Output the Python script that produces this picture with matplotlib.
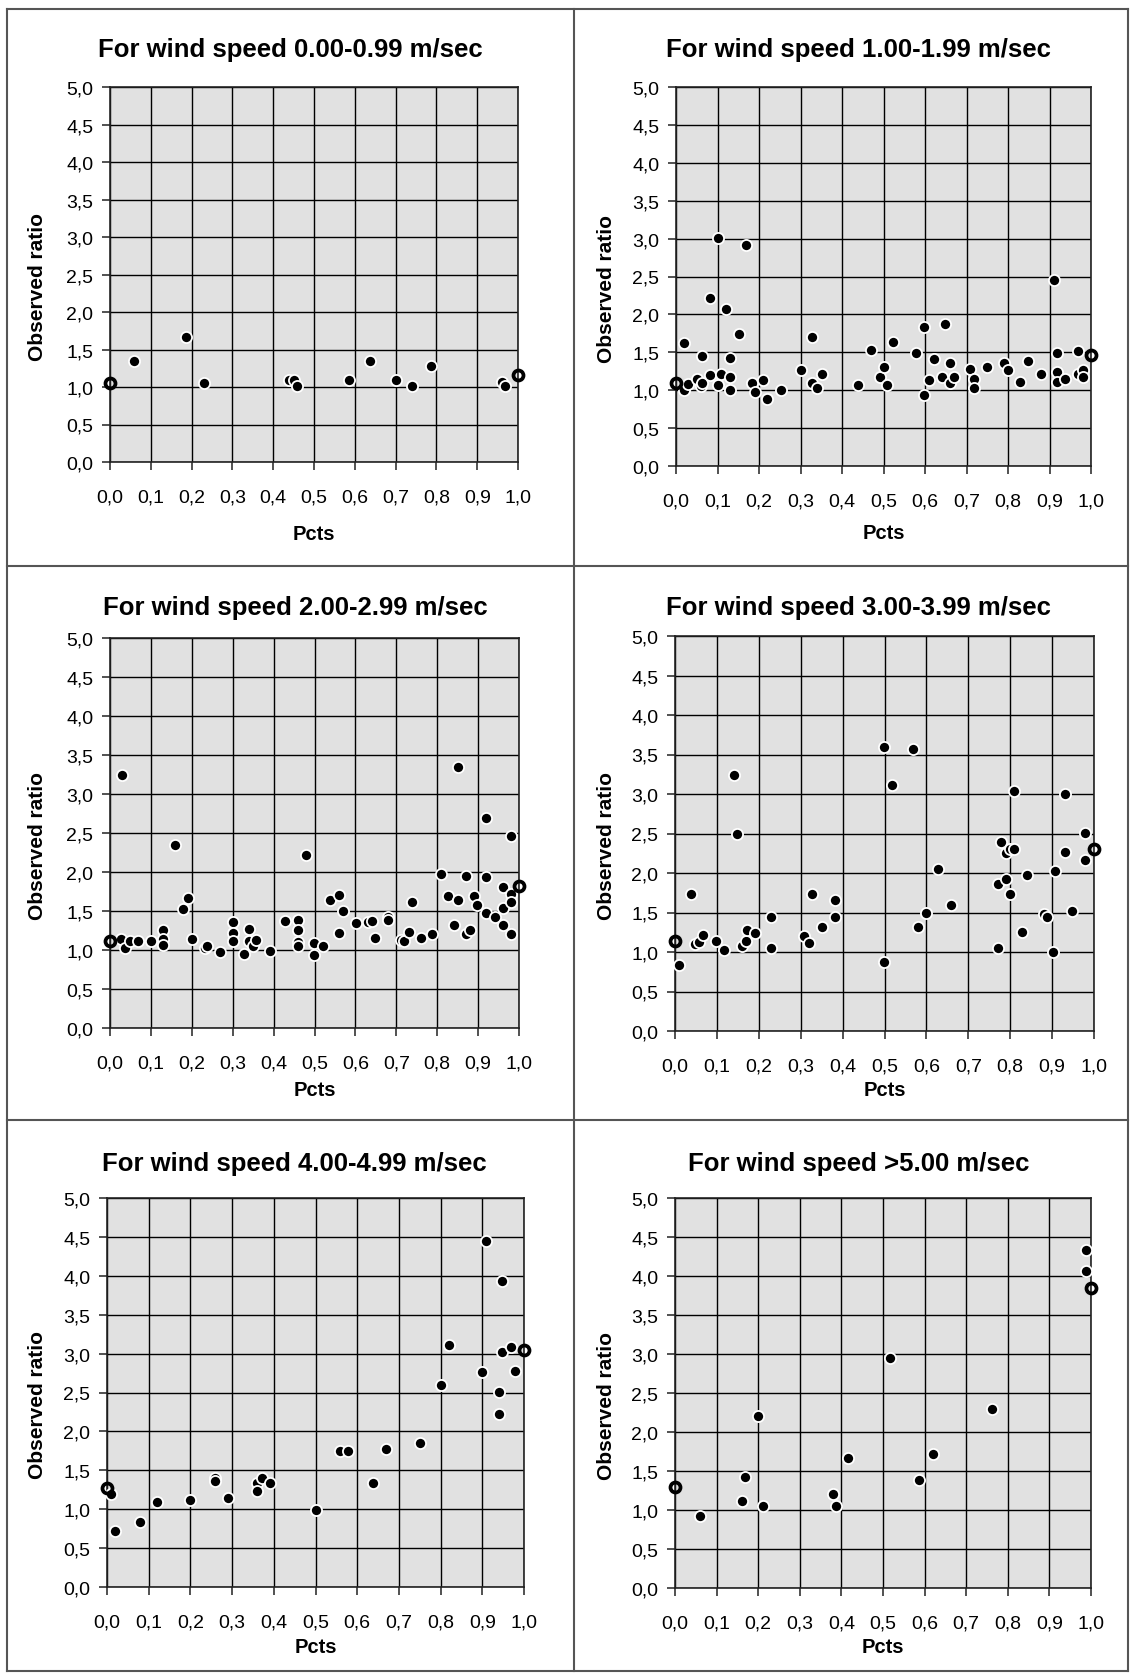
import matplotlib
matplotlib.use('Agg')
import matplotlib.pyplot as plt
from matplotlib.lines import Line2D

plt.rcParams['font.family'] = ['Liberation Sans', 'DejaVu Sans']

W, H = 1130, 1674

titles = ['For wind speed 0.00-0.99 m/sec', 'For wind speed 1.00-1.99 m/sec',
          'For wind speed 2.00-2.99 m/sec', 'For wind speed 3.00-3.99 m/sec',
          'For wind speed 4.00-4.99 m/sec', 'For wind speed >5.00 m/sec']

x_ws0 = [0.059, 0.187, 0.231, 0.438, 0.451, 0.459, 0.587, 0.638, 0.700, 0.740,
         0.786, 0.961, 0.967]
y_ws0 = [1.35, 1.67, 1.05, 1.09, 1.10, 1.02, 1.09, 1.35, 1.09, 1.02,
         1.28, 1.07, 1.015]

x_ws1 = [0.019, 0.020, 0.030, 0.050, 0.060, 0.062, 0.062, 0.082, 0.082, 0.100,
         0.100, 0.108, 0.120, 0.131, 0.131, 0.131, 0.152, 0.169, 0.182, 0.190,
         0.209, 0.220, 0.252, 0.301, 0.328, 0.328, 0.339, 0.352, 0.439, 0.470,
         0.491, 0.502, 0.509, 0.522, 0.578, 0.598, 0.598, 0.609, 0.622, 0.641,
         0.648, 0.660, 0.660, 0.671, 0.709, 0.717, 0.717, 0.749, 0.791, 0.799,
         0.830, 0.849, 0.880, 0.910, 0.917, 0.917, 0.917, 0.938, 0.969, 0.969,
         0.980, 0.980]
y_ws1 = [1.62, 1.00, 1.08, 1.15, 1.05, 1.09, 1.45, 1.20, 2.21, 3.01,
         1.07, 1.22, 2.07, 1.43, 1.18, 1.00, 1.74, 2.91, 1.09, 0.98,
         1.14, 0.89, 1.00, 1.26, 1.70, 1.10, 1.03, 1.22, 1.07, 1.53,
         1.18, 1.31, 1.07, 1.64, 1.49, 1.83, 0.94, 1.14, 1.41, 1.18,
         1.87, 1.36, 1.09, 1.18, 1.28, 1.15, 1.03, 1.31, 1.36, 1.26,
         1.11, 1.39, 1.22, 2.46, 1.49, 1.24, 1.11, 1.15, 1.52, 1.22,
         1.26, 1.18]

x_ws2 = [0.028, 0.030, 0.037, 0.050, 0.069, 0.100, 0.129, 0.129, 0.129, 0.160,
         0.179, 0.191, 0.200, 0.232, 0.238, 0.270, 0.300, 0.300, 0.300, 0.327,
         0.340, 0.340, 0.350, 0.358, 0.390, 0.429, 0.460, 0.460, 0.460, 0.460,
         0.480, 0.499, 0.499, 0.520, 0.537, 0.559, 0.559, 0.570, 0.601, 0.631,
         0.640, 0.647, 0.680, 0.680, 0.711, 0.718, 0.731, 0.739, 0.761, 0.788,
         0.809, 0.827, 0.840, 0.851, 0.851, 0.871, 0.871, 0.879, 0.890, 0.898,
         0.920, 0.920, 0.920, 0.941, 0.960, 0.960, 0.960, 0.981, 0.981, 0.981,
         0.981]
y_ws2 = [1.14, 3.24, 1.02, 1.11, 1.11, 1.11, 1.26, 1.14, 1.07, 2.34,
         1.52, 1.67, 1.14, 1.03, 1.05, 0.97, 1.36, 1.22, 1.11, 0.95,
         1.27, 1.11, 1.05, 1.13, 0.99, 1.37, 1.39, 1.26, 1.10, 1.05,
         2.22, 1.09, 0.93, 1.05, 1.64, 1.71, 1.22, 1.50, 1.34, 1.36,
         1.37, 1.15, 1.42, 1.39, 1.13, 1.11, 1.23, 1.61, 1.15, 1.20,
         1.97, 1.69, 1.32, 3.35, 1.64, 1.95, 1.20, 1.26, 1.69, 1.58,
         2.69, 1.93, 1.48, 1.42, 1.81, 1.54, 1.32, 2.46, 1.72, 1.61,
         1.20]

x_ws3 = [0.010, 0.037, 0.048, 0.058, 0.068, 0.099, 0.118, 0.141, 0.147, 0.159,
         0.169, 0.171, 0.191, 0.228, 0.228, 0.308, 0.320, 0.328, 0.351, 0.381,
         0.381, 0.498, 0.498, 0.519, 0.568, 0.579, 0.598, 0.628, 0.659, 0.770,
         0.770, 0.777, 0.789, 0.789, 0.800, 0.808, 0.808, 0.800, 0.827, 0.839,
         0.880, 0.888, 0.901, 0.907, 0.931, 0.931, 0.948, 0.979, 0.979]
y_ws3 = [0.83, 1.73, 1.10, 1.13, 1.22, 1.14, 1.03, 3.24, 2.49, 1.08,
         1.14, 1.28, 1.24, 1.44, 1.05, 1.20, 1.12, 1.74, 1.32, 1.66,
         1.44, 3.59, 0.87, 3.11, 3.57, 1.32, 1.50, 2.05, 1.60, 1.05,
         1.86, 2.39, 2.25, 1.93, 2.31, 2.31, 3.04, 1.73, 1.25, 1.97,
         1.48, 1.44, 1.00, 2.03, 3.00, 2.27, 1.52, 2.51, 2.17]

x_ws4 = [0.010, 0.018, 0.080, 0.120, 0.198, 0.260, 0.260, 0.291, 0.359, 0.359,
         0.372, 0.391, 0.501, 0.559, 0.579, 0.639, 0.670, 0.750, 0.800, 0.820,
         0.900, 0.910, 0.939, 0.939, 0.948, 0.948, 0.969, 0.979]
y_ws4 = [1.20, 0.72, 0.83, 1.09, 1.12, 1.40, 1.36, 1.15, 1.34, 1.24,
         1.40, 1.34, 0.99, 1.75, 1.75, 1.34, 1.77, 1.85, 2.60, 3.11,
         2.76, 4.45, 2.51, 2.22, 3.93, 3.02, 3.09, 2.78]

x_ws5 = [0.061, 0.161, 0.169, 0.199, 0.211, 0.379, 0.387, 0.417, 0.518, 0.587,
         0.619, 0.761, 0.987, 0.987]
y_ws5 = [0.92, 1.11, 1.42, 2.21, 1.05, 1.21, 1.05, 1.67, 2.95, 1.39,
         1.72, 2.30, 4.33, 4.06]

# the open "O" marks sit at Pcts = 0 and Pcts = 1
open_x = [0.0, 1.0]
open_left = [1.06, 1.10, 1.11, 1.14, 1.27, 1.30]
open_right = [1.16, 1.46, 1.82, 2.30, 3.05, 3.84]

xs = [x_ws0, x_ws1, x_ws2, x_ws3, x_ws4, x_ws5]
ys = [y_ws0, y_ws1, y_ws2, y_ws3, y_ws4, y_ws5]

xticks = [i / 10 for i in range(11)]
yticks = [i / 2 for i in range(11)]

# axes boxes in pixels: left, top, right, bottom
boxes = [(110, 88, 518, 463), (676, 88, 1091, 467),
         (110, 639, 519, 1029), (675, 637, 1094, 1032),
         (107, 1199, 524, 1588), (675, 1199, 1091, 1589)]
title_pos = [(290, 50), (858, 50), (295, 608), (858, 608), (294, 1164), (859, 1164)]
xlabel_y = [534, 534, 1091, 1091, 1648, 1648]


def fmt(v):
    return f'{v:.1f}'.replace('.', ',')


fig = plt.figure(figsize=(W / 100, H / 100), dpi=100)

for i in range(6):
    l, t, r, b = boxes[i]
    ax = fig.add_axes([l / W, 1 - b / H, (r - l) / W, (b - t) / H])
    ax.set_facecolor('#e1e1e1')
    ax.set_xlim(0, 1)
    ax.set_ylim(0, 5)
    ax.set_xticks(xticks)
    ax.set_xticklabels([fmt(v) for v in xticks])
    ax.set_yticks(yticks)
    ax.set_yticklabels([fmt(v) for v in yticks])
    ax.tick_params(labelsize=14, length=6, width=1.2, color='#333333')
    ax.tick_params(axis='x', pad=13)
    ax.tick_params(axis='y', pad=6)
    ax.grid(True, color='black', linewidth=1.0)
    ax.set_axisbelow(True)
    for s in ax.spines.values():
        s.set_color('#222222')
        s.set_linewidth(1.2)

    ax.plot(xs[i], ys[i], 'o', ms=8, mfc='black', mec='white', mew=1.3,
            clip_on=False, zorder=3)
    ax.plot(open_x, [open_left[i], open_right[i]], 'o', ms=7.2, mfc='none',
            mec='black', mew=2.7, clip_on=False, zorder=4)

    ax.set_xlabel('Pcts', fontsize=14.5, fontweight='bold', va='center')
    ax.xaxis.set_label_coords(0.5, -(xlabel_y[i] - b) / (b - t))
    ax.set_ylabel('Observed ratio', fontsize=15, fontweight='bold', va='center')
    ylab_x = 38 if i % 2 == 0 else 606
    ax.yaxis.set_label_coords((ylab_x - l) / (r - l), 0.47)

    tx, ty = title_pos[i]
    fig.text(tx / W, 1 - ty / H, titles[i], ha='center', va='center',
             fontsize=18.5, fontweight='bold')

# table borders around the six charts
border = '#555555'
for y in [10, 566.5, 1121, 1672]:
    fig.add_artist(Line2D([7 / W, 1128 / W], [1 - y / H, 1 - y / H], color=border, lw=1.5))
for x in [7, 573.5, 1128]:
    fig.add_artist(Line2D([x / W, x / W], [1 - 10 / H, 1 - 1672 / H], color=border, lw=1.5))

fig.savefig('out.png', dpi=100)
